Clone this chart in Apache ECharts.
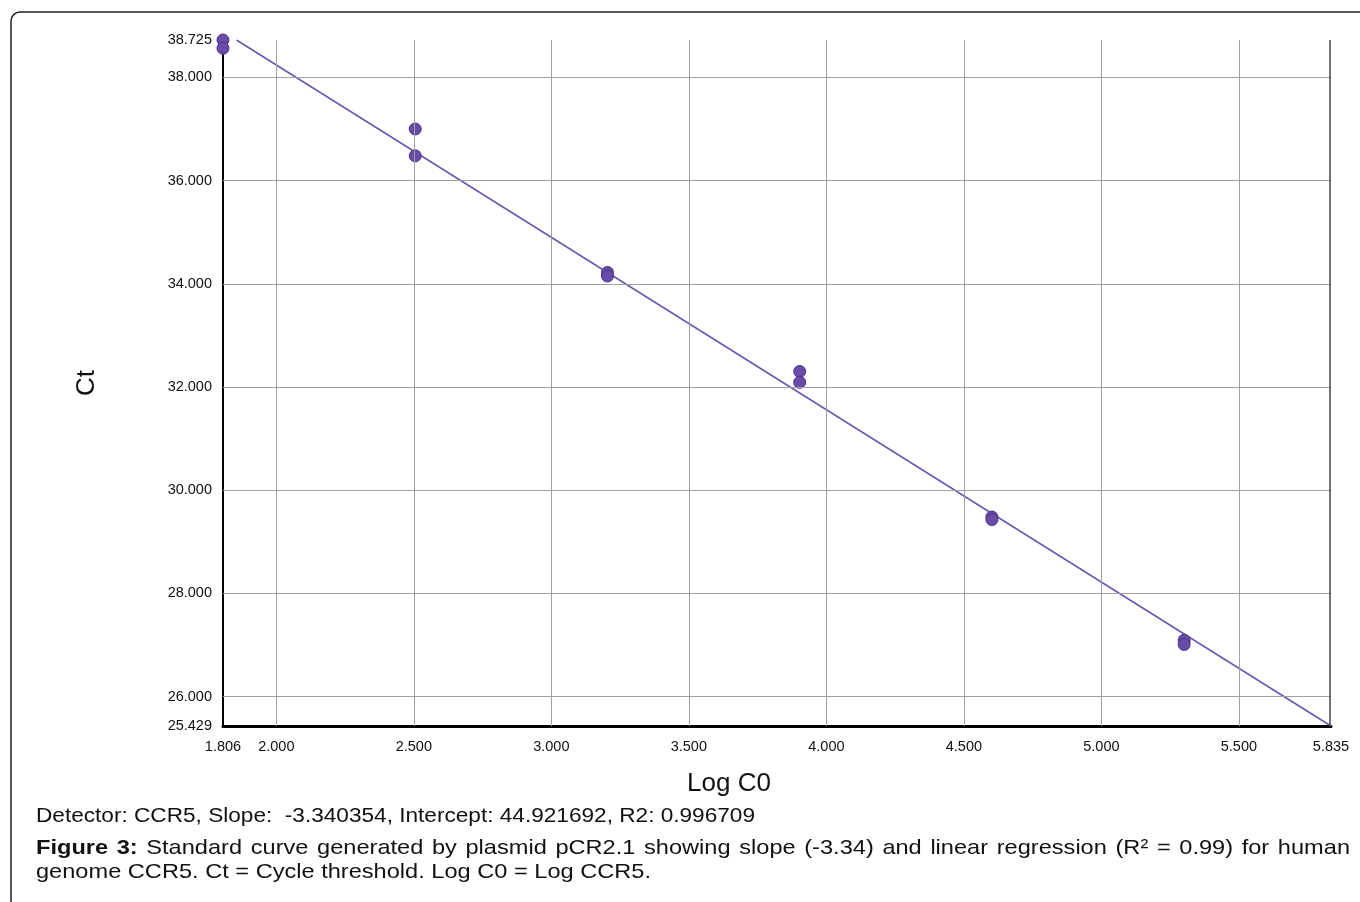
<!DOCTYPE html>
<html>
<head>
<meta charset="utf-8">
<script src="https://cdn.jsdelivr.net/npm/echarts@6/dist/echarts.min.js"></script>
<style>
html,body{margin:0;padding:0;background:#fff;}
#chart{width:1360px;height:902px;}
</style>
</head>
<body>
<div id="chart"></div>
<script>
// ---- data ----
const logC0 = [1.806, 1.806, 2.505, 2.505, 3.204, 3.204, 3.903, 3.903, 4.602, 4.602, 5.301, 5.301];
const ctValues = [38.725, 38.565, 37.00, 36.48, 34.22, 34.15, 32.30, 32.09, 29.48, 29.43, 27.09, 27.01];
const fitLineX = [1.855, 5.835];
const fitLineY = [38.725, 25.429];
const xTicks = [1.806, 2.0, 2.5, 3.0, 3.5, 4.0, 4.5, 5.0, 5.5, 5.835];
const yTicks = [25.429, 26, 28, 30, 32, 34, 36, 38, 38.725];
const xGridLines = [2.0, 2.5, 3.0, 3.5, 4.0, 4.5, 5.0, 5.5];
const yGridLines = [26, 28, 30, 32, 34, 36, 38];
const xMin = 1.806, xMax = 5.835, yMin = 25.429, yMax = 38.725;
const statsText = 'Detector: CCR5, Slope:  -3.340354, Intercept: 44.921692, R2: 0.996709';
const captionLine1 = ['Figure', '3:', 'Standard', 'curve', 'generated', 'by', 'plasmid', 'pCR2.1', 'showing', 'slope', '(-3.34)', 'and', 'linear', 'regression', '(R\u00B2', '=', '0.99)', 'for', 'human'];
const captionLine2 = 'genome CCR5. Ct = Cycle threshold. Log C0 = Log CCR5.';

const FONT = '"Liberation Sans", Arial, sans-serif';
const chart = echarts.init(document.getElementById('chart'));

const cv = document.createElement('canvas').getContext('2d');
function measure(text, font) { cv.font = font; return cv.measureText(text).width; }

// stats line: natural font stretched to reference width (36 -> 755)
const statsFont = '20px ' + FONT;
const statsScale = (755 - 36) / measure(statsText, statsFont);

// caption
const capFont = '21px ' + FONT, capBold = 'bold 21px ' + FONT;
const cap2Scale = (651 - 36) / measure(captionLine2, capFont);
const capLeft = 36, capRight = 1350;
const widths = captionLine1.map((w, i) => measure(w, i < 2 ? capBold : capFont) * cap2Scale);
const total = widths.reduce((a, b) => a + b, 0);
const gap = (capRight - capLeft - total) / (captionLine1.length - 1);
const capGraphics = [];
let cx = capLeft;
captionLine1.forEach((w, i) => {
  capGraphics.push({
    type: 'text', x: cx, y: 848, scaleX: cap2Scale,
    style: { text: w, font: i < 2 ? capBold : capFont, fill: '#111', align: 'left', verticalAlign: 'middle' }
  });
  cx += widths[i] + gap;
});

const gridColor = '#a0a0a0';
const option = {
  animation: false,
  backgroundColor: '#fff',
  grid: { left: 223, right: 29, top: 40, bottom: 176, containLabel: false },
  xAxis: {
    type: 'value', min: xMin, max: xMax,
    axisLine: { show: true, onZero: false, lineStyle: { color: '#000', width: 3 } },
    axisTick: { show: false },
    splitLine: { show: false },
    axisLabel: {
      customValues: xTicks, margin: 13,
      formatter: v => Number(v).toFixed(3),
      fontFamily: FONT, fontSize: 14.5, color: '#111'
    }
  },
  yAxis: {
    type: 'value', min: yMin, max: yMax,
    axisLine: { show: true, onZero: false, lineStyle: { color: '#000', width: 2 } },
    axisTick: { show: false },
    splitLine: { show: false },
    axisLabel: {
      customValues: yTicks, margin: 11,
      formatter: v => Number(v).toFixed(3),
      fontFamily: FONT, fontSize: 14.5, color: '#111'
    }
  },
  series: [
    {
      type: 'line', name: 'grid', silent: true, data: [], z: 1,
      markLine: {
        silent: true, symbol: 'none', label: { show: false },
        lineStyle: { color: gridColor, width: 1, type: 'solid' },
        animation: false,
        data: [
          ...xGridLines.map(v => ({ xAxis: v })),
          ...yGridLines.map(v => ({ yAxis: v })),
          { yAxis: yMax },
          { xAxis: xMax, lineStyle: { color: '#444', width: 1.5 } }
        ]
      }
    },
    {
      type: 'line', name: 'fit', z: 3,
      data: fitLineX.map((x, i) => [x, fitLineY[i]]),
      showSymbol: false, symbol: 'none',
      lineStyle: { color: '#6a55b0', width: 1.5 }
    },
    {
      type: 'scatter', name: 'Ct', z: 4,
      data: logC0.map((x, i) => [x, ctValues[i]]),
      symbol: 'circle', symbolSize: 12,
      itemStyle: { color: '#6a4ba8', borderColor: '#4a3585', borderWidth: 1, opacity: 1 }
    }
  ],
  graphic: [
    {
      type: 'rect', x: 11, y: 12, silent: true,
      shape: { x: 0, y: 0, width: 1400, height: 950, r: 9 },
      style: { fill: 'none', stroke: '#222', lineWidth: 1.5 }
    },
    {
      type: 'text', x: 87, y: 383, rotation: Math.PI / 2,
      style: { text: 'Ct', font: '26px ' + FONT, fill: '#111', align: 'center', verticalAlign: 'middle' }
    },
    {
      type: 'text', x: 729, y: 784,
      style: { text: 'Log C0', font: '26px ' + FONT, fill: '#111', align: 'center', verticalAlign: 'middle' }
    },
    {
      type: 'text', x: 36, y: 816, scaleX: statsScale,
      style: { text: statsText, font: statsFont, fill: '#111', align: 'left', verticalAlign: 'middle' }
    },
    ...capGraphics,
    {
      type: 'text', x: 36, y: 872, scaleX: cap2Scale,
      style: { text: captionLine2, font: capFont, fill: '#111', align: 'left', verticalAlign: 'middle' }
    }
  ]
};
chart.setOption(option);
</script>
</body>
</html>
